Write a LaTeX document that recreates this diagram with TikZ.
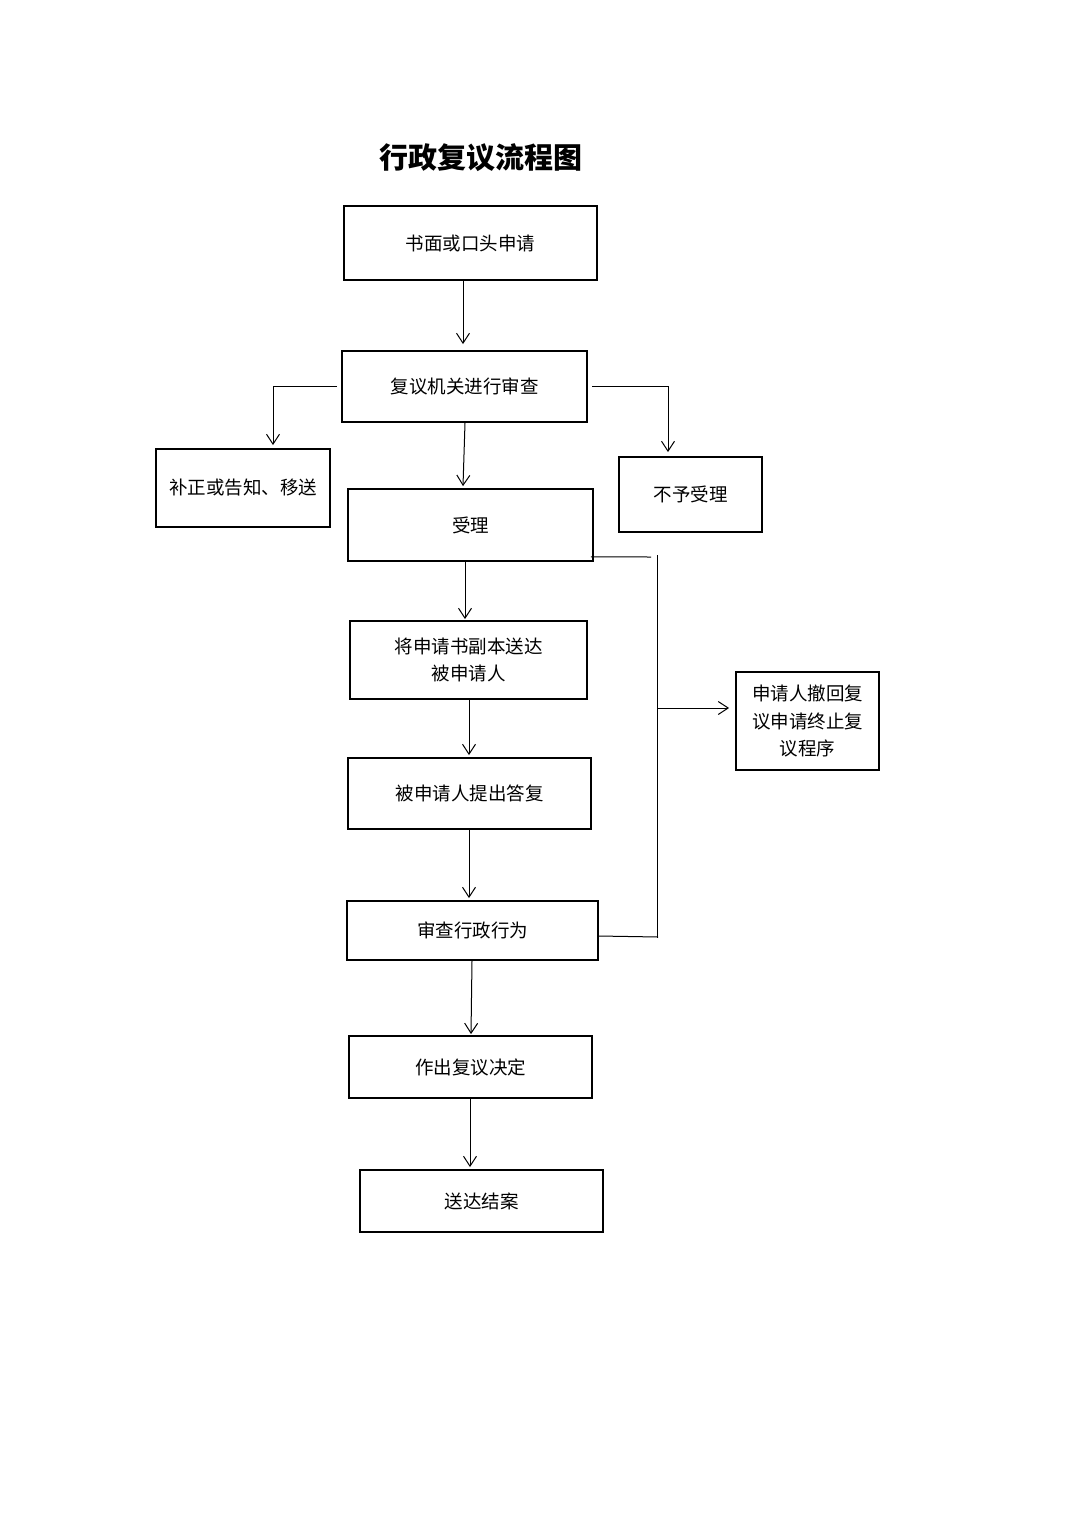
\documentclass[tikz,border=0pt]{standalone}
\usepackage{fontspec}
\newfontfamily\cjk{Noto Sans CJK SC}
\usetikzlibrary{arrows.meta}
\begin{document}
\begin{tikzpicture}[x=1pt,y=-1pt,
  box/.style={draw=black,line width=1.8pt,rectangle,inner sep=0pt,align=center,
    font=\cjk\fontsize{18.5pt}{27.5pt}\selectfont},
  conn/.style={draw=black,line width=1pt},
  arr/.style={conn,-{Straight Barb[length=10pt,width=13pt,line width=1pt]}}]
\fill[white] (0,0) rectangle (1074,1520);
\useasboundingbox (0,0) rectangle (1074,1520);
\node[font=\cjk\bfseries\fontsize{29pt}{32pt}\selectfont] (title) at (481,158) {行政复议流程图};
\node[box,minimum width=253pt,minimum height=74pt] (n1) at (470.5,243) {书面或口头申请};
\node[box,minimum width=245pt,minimum height=71pt] (n2) at (464.5,386.5) {复议机关进行审查};
\node[box,minimum width=174pt,minimum height=78pt] (n3) at (243,488) {补正或告知、移送};
\node[box,minimum width=245pt,minimum height=72pt] (n4) at (470.5,525) {受理};
\node[box,minimum width=143pt,minimum height=75pt] (n5) at (690.5,494.5) {不予受理};
\node[box,minimum width=237pt,minimum height=78pt] (n6) at (468.5,660) {将申请书副本送达\\被申请人};
\node[box,minimum width=143pt,minimum height=98pt] (n7) at (807.5,721) {申请人撤回复\\议申请终止复\\议程序};
\node[box,minimum width=243pt,minimum height=71pt] (n8) at (469.5,793.5) {被申请人提出答复};
\node[box,minimum width=251pt,minimum height=59pt] (n9) at (472.5,930.5) {审查行政行为};
\node[box,minimum width=243pt,minimum height=62pt] (n10) at (470.5,1067) {作出复议决定};
\node[box,minimum width=243pt,minimum height=62pt] (n11) at (481.5,1201) {送达结案};
% free ends of the withdrawal bracket
\coordinate (ta) at (651,557);
\coordinate (vt) at (657,555);
\coordinate (vm) at (657,708);
\coordinate (vb) at (657,938);
\coordinate (tb) at (658,937);
% connectors
\draw[arr] ([xshift=-7.5pt]n1.south) -- ([xshift=-1.5pt,yshift=6pt]n2.north);
\draw[arr] ([xshift=-4pt]n2.west) -| ([xshift=30pt,yshift=3pt]n3.north);
\draw[arr] ([xshift=4.5pt]n2.east) -| ([xshift=-22.5pt,yshift=4pt]n5.north);
\draw[arr] ([xshift=0.5pt]n2.south) -- ([xshift=-7.5pt,yshift=2pt]n4.north);
\draw[arr] ([xshift=-5.5pt]n4.south) -- ([xshift=-3.5pt,yshift=1pt]n6.north);
\draw[arr] ([xshift=0.5pt]n6.south) -- ([xshift=-0.5pt,yshift=2pt]n8.north);
\draw[arr] ([xshift=-0.5pt]n8.south) -- ([xshift=-3.5pt,yshift=2pt]n9.north);
\draw[arr] ([xshift=-0.5pt]n9.south) -- ([xshift=0.5pt,yshift=1pt]n10.north);
\draw[arr] ([xshift=-0.5pt]n10.south) -- ([xshift=-11.5pt,yshift=2pt]n11.north);
\draw[conn] ([xshift=-3pt,yshift=5pt]n4.south east) -- (ta);
\draw[conn] (vt) -- (vb);
\draw[arr] (vm) -- ([xshift=-6pt,yshift=13pt]n7.west);
\draw[conn] ([yshift=-5.5pt]n9.east) -- (tb);
\end{tikzpicture}
\end{document}
